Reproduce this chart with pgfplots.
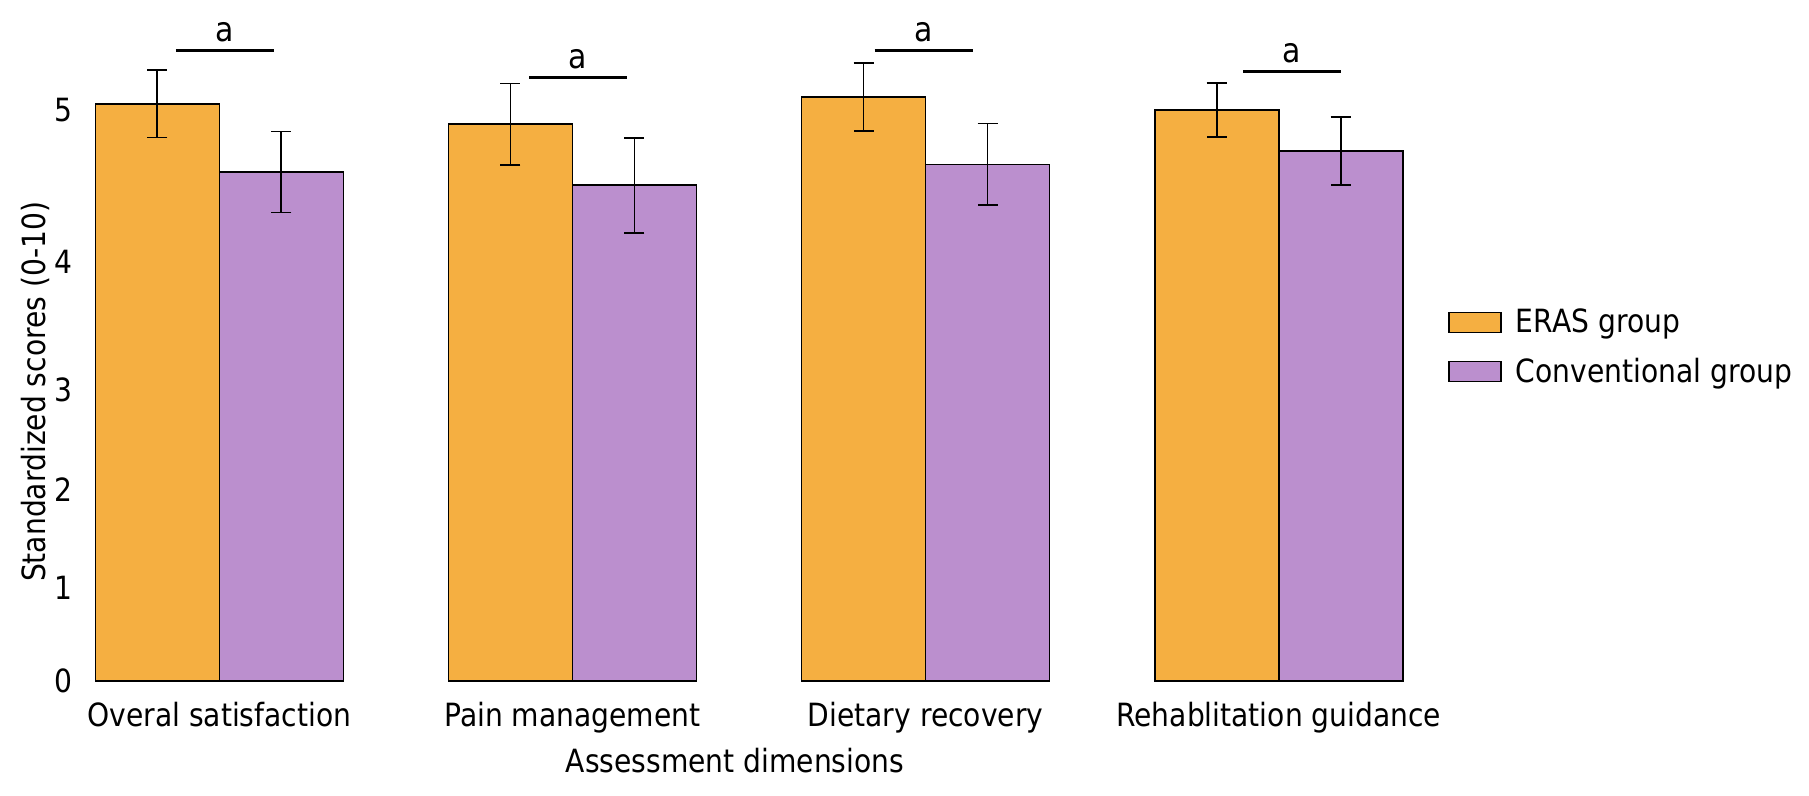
\documentclass[border=0pt]{standalone}
\usepackage{fontspec}
\setmainfont{DejaVu Sans}[FakeStretch=0.88]
\usepackage{pgfplots}
\pgfplotsset{compat=1.18}
\definecolor{eras}{RGB}{245,175,65}
\definecolor{conv}{RGB}{187,143,206}
\pgfplotsset{boxlegend/.style={legend image code/.code={\draw[##1,line width=0.75pt] (0pt,-5pt) rectangle (26pt,5pt);}}}

\begin{document}
\begin{tikzpicture}
  \begin{axis}[
    scale only axis,
    width=666pt, height=319.75pt,
    xmin=-0.386, xmax=3.386,
    ymin=0, ymax=5.6,
    ybar=0pt, bar width=62pt,
    clip=false,
    axis line style={draw=none},
    major tick length=0pt,
    font=\fontsize{16}{19}\selectfont,
    /pgf/number format/assume math mode=true,
    xtick={0,1,2,3},
    xticklabels={Overal satisfaction, Pain management, Dietary recovery, Rehablitation guidance},
    xticklabel style={anchor=base, yshift=-23pt},
    ytick={0,0.814,1.672,2.548,3.669,5},
    yticklabels={0,1,2,3,4,5},
    yticklabel style={xshift=-2pt},
    xlabel={Assessment dimensions},
    ylabel={Standardized scores (0-10)},
    every axis x label/.style={at={(axis description cs:0.4895,0)}, anchor=center, yshift=-40pt},
    every axis y label/.style={at={(axis description cs:-0.036,0.452)}, anchor=center, rotate=90},
    legend style={at={(axis description cs:1,0.522)}, anchor=west, xshift=16.5pt,
      draw=none, fill=none, inner sep=0pt, row sep=7pt,
      font=\fontsize{16}{19}\selectfont, cells={anchor=west},
      /tikz/every odd column/.append style={column sep=5pt}},
  ]
    % ERAS group
    \addplot[fill=eras, draw=black, line width=0.8pt, boxlegend,
      error bars/.cd, y dir=both, y explicit,
      error bar style={line width=0.85pt, black},
      error mark options={rotate=90, mark size=5pt, line width=0.85pt, black}]
    coordinates {
      (0,5.055) +- (0,0.296)
      (1,4.877) +- (0,0.356)
      (2,5.116) +- (0,0.298)
      (3,5.000) +- (0,0.238)
    };
    % Conventional group
    \addplot[fill=conv, draw=black, line width=0.8pt, boxlegend,
      error bars/.cd, y dir=both, y explicit,
      error bar style={line width=0.85pt, black},
      error mark options={rotate=90, mark size=5pt, line width=0.85pt, black}]
    coordinates {
      (0,4.457) +- (0,0.355)
      (1,4.341) +- (0,0.416)
      (2,4.524) +- (0,0.357)
      (3,4.641) +- (0,0.298)
    };
    \addlegendentry{ERAS group}
    \addlegendentry{Conventional group}

    % significance marks
    \draw[line width=1.5pt] (axis cs:-0.123,5.519) -- (axis cs:0.155,5.519);
    \draw[line width=1.5pt] (axis cs:0.877,5.289) -- (axis cs:1.154,5.289);
    \draw[line width=1.5pt] (axis cs:1.856,5.519) -- (axis cs:2.135,5.519);
    \draw[line width=1.5pt] (axis cs:2.899,5.339) -- (axis cs:3.177,5.339);
    \node[anchor=base, yshift=4.5pt, font=\fontsize{17}{20}\selectfont] at (axis cs:0.016,5.519) {a};
    \node[anchor=base, yshift=4.5pt, font=\fontsize{17}{20}\selectfont] at (axis cs:1.0155,5.289) {a};
    \node[anchor=base, yshift=4.5pt, font=\fontsize{17}{20}\selectfont] at (axis cs:1.9955,5.519) {a};
    \node[anchor=base, yshift=4.5pt, font=\fontsize{17}{20}\selectfont] at (axis cs:3.038,5.339) {a};
  \end{axis}
  \path (-41.5pt,-57.5pt) rectangle (863pt,340.5pt);
\end{tikzpicture}
\end{document}
